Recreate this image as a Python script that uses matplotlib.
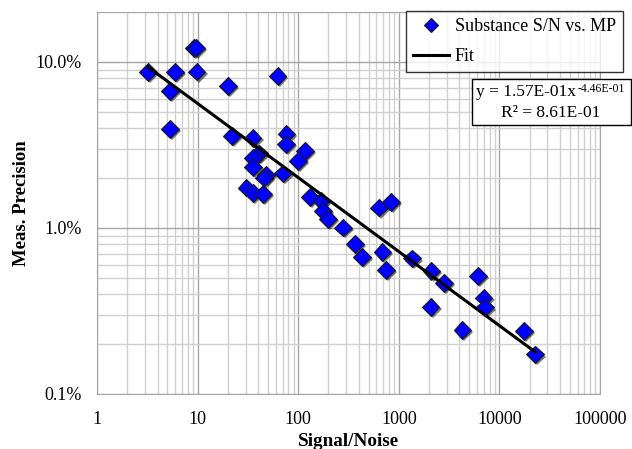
import numpy as np
import matplotlib
matplotlib.use("Agg")
import matplotlib.pyplot as plt
import matplotlib.patheffects as pe
from matplotlib.text import Annotation
from matplotlib.ticker import FuncFormatter, LogLocator, NullFormatter

plt.rcParams['font.family'] = ['Liberation Serif', 'DejaVu Serif']

# Signal/Noise values
sn = [3.21, 5.31, 5.31, 5.95, 9.2, 9.6, 9.77, 19.9, 62.3, 22.1, 35.2, 76.5, 75.3,
      116, 99.8, 40.9, 35.8, 35.8, 47.7, 45.5, 70.8, 30.6, 35.8, 44.8, 130, 170,
      177, 198, 279, 365, 428, 631, 843, 687, 741, 1353, 2110, 2812, 2073, 4285,
      6124, 6970, 7245, 17500, 22740]
# Measurement precision (fraction)
mp = [0.0867, 0.0666, 0.0393, 0.0867, 0.121, 0.122, 0.0875, 0.0717, 0.082, 0.0357,
      0.0348, 0.037, 0.0319, 0.0291, 0.0253, 0.0281, 0.0265, 0.0233, 0.0208, 0.0201,
      0.0213, 0.0175, 0.0163, 0.016, 0.0153, 0.0146, 0.0126, 0.0113, 0.01006, 0.00798,
      0.00669, 0.01327, 0.01435, 0.00717, 0.00556, 0.00655, 0.00551, 0.00467, 0.00334,
      0.00244, 0.00512, 0.00381, 0.00332, 0.0024, 0.00173]

fit_a = 1.57e-01
fit_b = -4.46e-01
series_label = "Substance S/N vs. MP"
fit_label = "Fit"
eq_main = "y = 1.57E-01x"
eq_exp = "-4.46E-01"
eq_r2 = "R² = 8.61E-01"

fig = plt.figure(figsize=(6.32, 4.49), dpi=100)
ax = fig.add_axes([97/632, 1-394/449, (600-97)/632, (394-12)/449])
ax.set_xscale('log')
ax.set_yscale('log')
ax.set_xlim(1, 100000)
ax.set_ylim(0.001, 0.2)

ax.grid(True, which='major', color='#a6a6a6', linewidth=1.0)
ax.grid(True, which='minor', color='#d0d0d0', linewidth=1.0)
ax.set_axisbelow(True)
ax.xaxis.set_minor_locator(LogLocator(base=10, subs=np.arange(2, 10)))
ax.yaxis.set_minor_locator(LogLocator(base=10, subs=np.arange(2, 10)))
ax.xaxis.set_minor_formatter(NullFormatter())
ax.yaxis.set_minor_formatter(NullFormatter())
ax.xaxis.set_major_locator(LogLocator(base=10))
ax.yaxis.set_major_locator(LogLocator(base=10))
ax.xaxis.set_major_formatter(FuncFormatter(lambda v, p: f"{v:.0f}"))
ax.yaxis.set_major_formatter(FuncFormatter(lambda v, p: f"{v*100:.1f}%"))
ax.tick_params(which='both', length=0, labelsize=13)
ax.tick_params(axis='x', pad=12)
ax.tick_params(axis='y', pad=11)
for s in ax.spines.values():
    s.set_color('#a6a6a6')

line_sc, = ax.plot(sn, mp, linestyle='none', marker='D', markersize=9,
                   markerfacecolor='#0000ff', markeredgecolor='#1a1a1a',
                   markeredgewidth=0.8, label=series_label, zorder=3)
line_sc.set_path_effects([pe.SimplePatchShadow(offset=(1.5, -1.5), shadow_rgbFace='#222222', alpha=0.6), pe.Normal()])

xf = np.array([min(sn), max(sn)])
line_fit, = ax.plot(xf, fit_a * xf ** fit_b, color='black', linewidth=2.2, label=fit_label, zorder=4)

ax.set_xlabel("Signal/Noise", fontsize=13.8, fontweight='bold', labelpad=4)
ax.set_ylabel("Meas. Precision", fontsize=13.5, fontweight='bold', labelpad=4)

leg = fig.legend(handles=[line_sc, line_fit], loc='upper left',
                 bbox_to_anchor=(406/632, 1-11/449), fontsize=13,
                 frameon=True, fancybox=False, edgecolor='black',
                 borderpad=0.4, labelspacing=0.7, handlelength=2.0, handletextpad=0.3,
                 borderaxespad=0)
leg.get_frame().set_linewidth(1.0)
for h in leg.legend_handles:
    h.set_path_effects([])
leg.legend_handles[0].set_markersize(7)

# equation box
fig.patches.append(plt.Rectangle((472/632, 1-125/449), (631-472)/632, (125-79)/449,
                                 transform=fig.transFigure, facecolor='white',
                                 edgecolor='black', linewidth=1.0, zorder=5))
t1 = fig.text(476/632, 1-92/449, eq_main, ha='left', va='center', fontsize=12.5, zorder=6)
sup = Annotation(eq_exp, xy=(1.0, 1.0), xycoords=t1, xytext=(1, 1), textcoords='offset points',
                 ha='left', va='top', fontsize=8.5, annotation_clip=False)
sup.set_zorder(6)
fig.add_artist(sup)
fig.text(551/632, 1-113/449, eq_r2, ha='center', va='center', fontsize=12.5, zorder=6)

fig.savefig("out.png", dpi=100)
